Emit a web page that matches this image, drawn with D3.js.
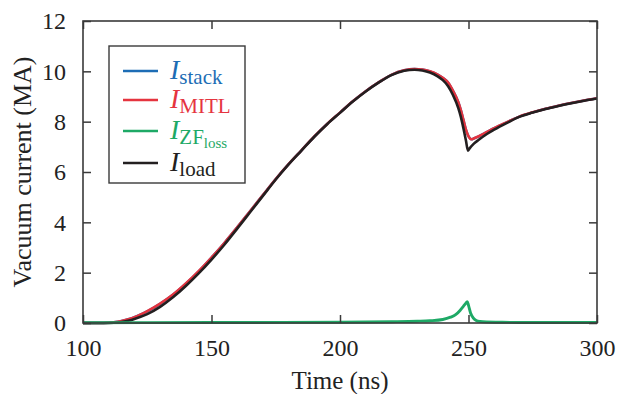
<!DOCTYPE html>
<html><head><meta charset="utf-8">
<script src="https://cdn.jsdelivr.net/npm/d3@7"></script>
<style>
html,body{margin:0;padding:0;background:#fff;}
svg{display:block;font-family:"Liberation Serif","DejaVu Serif",serif;}
</style></head>
<body>
<svg id="chart" width="619" height="394"></svg>
<script>
// ---- data ----
const xTicks = [100, 150, 200, 250, 300];
const yTicks = [0, 2, 4, 6, 8, 10, 12];
const seriesNames = ["stack", "MITL", "ZF", "load"];
const seriesColors = ["#1d6db5", "#e5343f", "#1ea966", "#231f20"];

const tLoad = [100,108,112,115,118,120,125,130,135,140,145,150,155,160,165,170,175,180,185,190,195,200,205,210,215,220,225,229,232,235,238,240,242,244,246,247,248,249,249.8,250.5,252,254,257,260,265,270,275,280,285,290,295,300];
const iLoad = [0,0,0.01,0.04,0.1,0.16,0.35,0.64,1.02,1.47,1.97,2.52,3.11,3.75,4.4,5.05,5.7,6.3,6.85,7.4,7.9,8.35,8.8,9.2,9.55,9.85,10.02,10.06,10.03,9.95,9.8,9.65,9.42,9.05,8.55,8.2,7.75,7.25,6.85,6.95,7.12,7.28,7.5,7.68,7.95,8.2,8.36,8.5,8.62,8.73,8.83,8.92];

const tMITL = [100,108,112,115,118,120,125,130,135,140,145,150,155,160,165,170,175,180,185,190,195,200,205,210,215,220,225,229,232,235,238,240,242,244,246,247,248,249,250,251.2,252,254,257,260,265,270,275,280,285,290,295,300];
const iMITL = [0,0,0.03,0.08,0.16,0.23,0.47,0.77,1.13,1.57,2.06,2.6,3.18,3.8,4.44,5.08,5.72,6.31,6.86,7.41,7.91,8.36,8.81,9.21,9.56,9.86,10.04,10.09,10.07,10.0,9.87,9.74,9.56,9.22,8.78,8.47,8.08,7.68,7.42,7.3,7.33,7.42,7.58,7.74,7.98,8.21,8.37,8.51,8.63,8.74,8.84,8.93];

const tStack = tMITL;
const iStack = [0,0,0.03,0.08,0.16,0.23,0.46,0.76,1.12,1.56,2.05,2.6,3.18,3.8,4.44,5.08,5.72,6.31,6.86,7.41,7.91,8.36,8.81,9.21,9.56,9.86,10.04,10.09,10.07,10.0,9.87,9.74,9.56,9.22,8.78,8.47,8.08,7.68,7.42,7.3,7.33,7.42,7.58,7.74,7.98,8.21,8.37,8.51,8.63,8.74,8.84,8.93];

const tZF = [100,150,200,220,230,235,240,243,245,246.7,248,249,249.5,250,250.8,251.9,253,254.5,257,262,270,300];
const iZF = [0.01,0.02,0.03,0.05,0.07,0.09,0.14,0.23,0.33,0.5,0.66,0.79,0.85,0.7,0.4,0.19,0.1,0.06,0.04,0.03,0.02,0.02];

// ---- layout ----
const svg = d3.select("#chart");
const L = 83, R = 597, T = 21, B = 323;
const x = d3.scaleLinear().domain([100, 300]).range([L, R]);
const y = d3.scaleLinear().domain([0, 12]).range([B, T]);
const axisColor = "#3a3a3a";

svg.append("clipPath").attr("id", "clip")
  .append("rect").attr("x", L).attr("y", T).attr("width", R - L).attr("height", B - T + 2);

const line = d3.line().x(d => x(d[0])).y(d => y(d[1])).curve(d3.curveMonotoneX);
const zip = (a, b) => a.map((v, i) => [v, b[i]]);

const g = svg.append("g").attr("clip-path", "url(#clip)");
const series = [
  {pts: zip(tStack, iStack), c: seriesColors[0], w: 2.5},
  {pts: zip(tMITL, iMITL), c: seriesColors[1], w: 2.6},
  {pts: zip(tLoad, iLoad), c: seriesColors[3], w: 2.6},
  {pts: zip(tZF, iZF), c: seriesColors[2], w: 2.9}
];
series.forEach(s => {
  g.append("path").attr("d", line(s.pts)).attr("fill", "none")
    .attr("stroke", s.c).attr("stroke-width", s.w).attr("stroke-linejoin", "round");
});

// ---- axes (inward ticks on all sides) ----
const tickLen = 8;
const fontTick = 24;
const axB = svg.append("g").attr("transform", `translate(0,${B})`)
  .call(d3.axisBottom(x).tickValues(xTicks).tickSize(-tickLen).tickPadding(tickLen + 8).tickFormat(d3.format("d")));
const axT = svg.append("g").attr("transform", `translate(0,${T})`)
  .call(d3.axisTop(x).tickValues(xTicks).tickSize(-tickLen).tickFormat(""));
const axL = svg.append("g").attr("transform", `translate(${L},0)`)
  .call(d3.axisLeft(y).tickValues(yTicks).tickSize(-tickLen).tickPadding(tickLen + 9).tickFormat(d3.format("d")));
const axR = svg.append("g").attr("transform", `translate(${R},0)`)
  .call(d3.axisRight(y).tickValues(yTicks).tickSize(-tickLen).tickFormat(""));
[axB, axT, axL, axR].forEach(a => {
  a.select(".domain").remove();
  a.selectAll("line").attr("stroke", axisColor).attr("stroke-width", 1.5);
  a.selectAll("text").attr("fill", "#222").style("font-size", fontTick + "px")
    .style("font-family", "'Liberation Serif', serif");
});
axB.selectAll("text").attr("dy", "0.71em");
svg.append("rect").attr("x", L).attr("y", T).attr("width", R - L).attr("height", B - T)
  .attr("fill", "none").attr("stroke", axisColor).attr("stroke-width", 1.6);

// axis titles
svg.append("text").attr("x", (L + R) / 2).attr("y", 389).attr("text-anchor", "middle")
  .attr("fill", "#222").style("font-size", "25px").text("Time (ns)");
svg.append("text").attr("transform", `translate(31,${(T + B) / 2}) rotate(-90)`)
  .attr("text-anchor", "middle").attr("fill", "#222").style("font-size", "26px")
  .text("Vacuum current (MA)");

// ---- legend ----
const leg = svg.append("g");
leg.append("rect").attr("x", 109).attr("y", 46).attr("width", 136).attr("height", 137)
  .attr("fill", "#fff").attr("stroke", axisColor).attr("stroke-width", 1.4);
const legendSubs = ["stack", "MITL", "ZF", "load"];
const rowY = [71, 100, 131, 163];
seriesNames.forEach((n, i) => {
  leg.append("line").attr("x1", 123).attr("x2", 158).attr("y1", rowY[i]).attr("y2", rowY[i])
    .attr("stroke", seriesColors[i]).attr("stroke-width", 2.6);
  const t = leg.append("text").attr("x", 170).attr("y", rowY[i] + 8)
    .attr("fill", seriesColors[i]).style("font-size", "28px");
  t.append("tspan").style("font-style", "italic").text("I");
  t.append("tspan").attr("dy", 5).style("font-size", "21px").text(legendSubs[i]);
  if (n === "ZF") {
    t.append("tspan").attr("dy", 4).style("font-size", "15px").text("loss");
  }
});
</script>
</body></html>
